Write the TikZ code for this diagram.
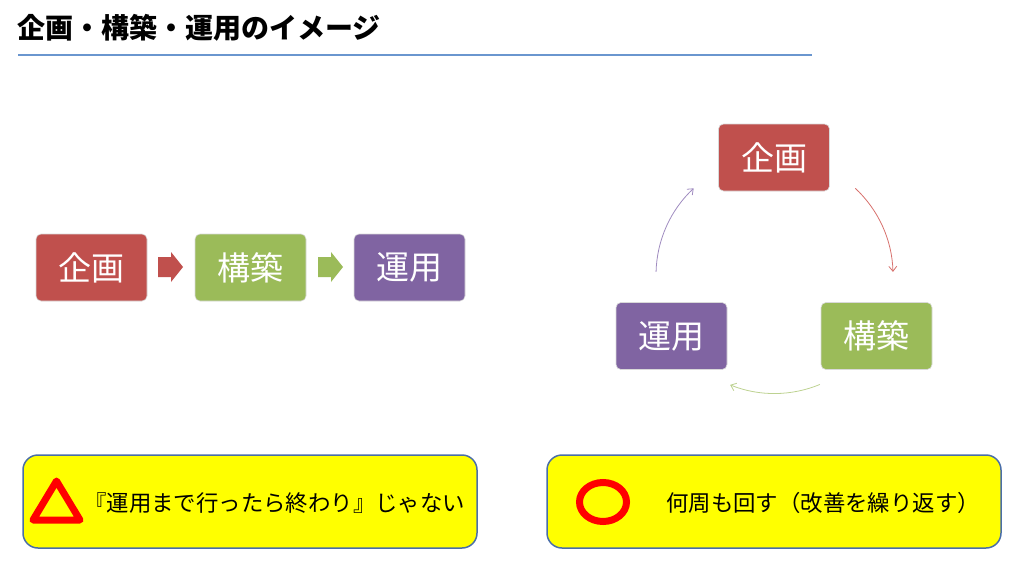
\documentclass[tikz,border=0pt]{standalone}
\usepackage{fontspec}
\newfontfamily\jp{Noto Sans CJK JP}
\usetikzlibrary{arrows.meta}
\definecolor{cred}{HTML}{C0504D}
\definecolor{cgreen}{HTML}{9BBB59}
\definecolor{cpurple}{HTML}{8064A2}
\definecolor{ared}{HTML}{D7706C}
\definecolor{agreen}{HTML}{BDD291}
\definecolor{apurple}{HTML}{A08CC0}
\definecolor{tline}{HTML}{6A96CF}
\definecolor{yborder}{HTML}{4A6EA8}
\definecolor{ylw}{HTML}{FFFF00}
\definecolor{mred}{HTML}{FF0000}
\begin{document}
\begin{tikzpicture}[x=1pt,y=-1pt,
  stagebox/.style={rounded corners=5pt, draw=white!85!black, line width=0.6pt, minimum width=111pt, minimum height=67pt, inner sep=0pt, text=white, font=\jp\fontsize{33}{38}\selectfont},
  ybox/.style={rounded corners=15pt, draw=yborder, line width=1.5pt, fill=ylw, minimum width=454pt, minimum height=93pt, inner sep=0pt},
  ytext/.style={inner sep=0pt, anchor=west, font=\jp\fontsize{22.4}{26}\selectfont},
  cyc/.style={line width=0.8pt, -{Straight Barb[length=5pt,width=8pt]}}]
\useasboundingbox (0,0) rectangle (1024,586);
% title
\node[anchor=west, inner sep=0pt, font=\jp\bfseries\fontsize{28}{32}\selectfont] (title) at (17,28) {企画・構築・運用のイメージ};
\coordinate (tl) at (18,55);
\coordinate (tr) at (812,55);
\draw[tline, line width=2pt] (tl) -- (tr);
% linear flow
\node[stagebox, fill=cred] (p1) at (91.5,267.5) {企画};
\node[stagebox, fill=cgreen] (b1) at (250.5,267.5) {構築};
\node[stagebox, fill=cpurple] (o1) at (409.5,267.5) {運用};
\fill[cred] (158,257) -- (171,257) -- (171,252) -- (183,267) -- (171,282) -- (171,277) -- (158,277) -- cycle;
\fill[cgreen] (318,257) -- (331,257) -- (331,252) -- (343,267) -- (331,282) -- (331,277) -- (318,277) -- cycle;
% cycle
\node[stagebox, fill=cred] (p2) at (774,157.5) {企画};
\node[stagebox, fill=cgreen] (b2) at (876.5,336) {構築};
\node[stagebox, fill=cpurple] (o2) at (671.5,336) {運用};
\coordinate (cc) at (774.5,275);
\draw[cyc, ared] ([shift={(47:118.5 and -118.5)}]cc) arc[start angle=47, end angle=1.5, x radius=118.5, y radius=-118.5];
\draw[cyc, agreen] ([shift={(-67.5:118.5 and -118.5)}]cc) arc[start angle=-67.5, end angle=-112, x radius=118.5, y radius=-118.5];
\draw[cyc, apurple] ([shift={(178.5:118.5 and -118.5)}]cc) arc[start angle=178.5, end angle=133, x radius=118.5, y radius=-118.5];
% bottom boxes
\node[ybox] (L) at (250,501.5) {};
\node[ybox] (R) at (774,501.5) {};
\draw[mred, line width=7pt, line join=round, line cap=round] (56.5,481) -- (80,520) -- (33,520) -- cycle;
\node[ytext] (lt) at (84,503) {『運用まで行ったら終わり』じゃない};
\draw[mred, line width=7pt] (603,502) ellipse[x radius=23.5, y radius=19.5];
\node[ytext] (rt) at (666,503) {何周も回す（改善を繰り返す）};
\end{tikzpicture}
\end{document}
